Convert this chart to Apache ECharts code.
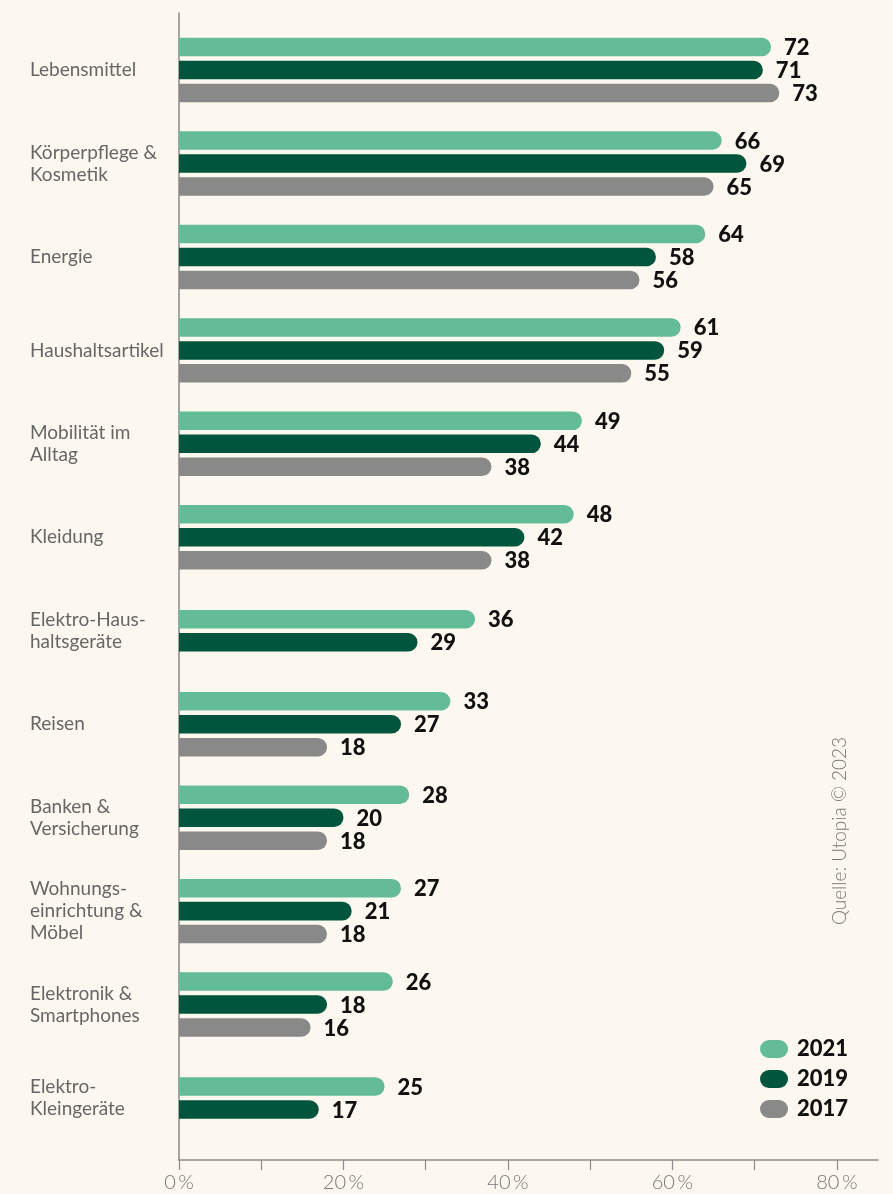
<!DOCTYPE html>
<html>
<head>
<meta charset="utf-8">
<script src="https://cdn.jsdelivr.net/npm/echarts@6/dist/echarts.min.js"></script>
<style>
html,body{margin:0;padding:0;background:#fdf8ef;}
#chart{width:893px;height:1194px;}
</style>
</head>
<body>
<div id="chart"></div>
<script>
var categories = [
  'Lebensmittel',
  'Körperpflege &\nKosmetik',
  'Energie',
  'Haushaltsartikel',
  'Mobilität im\nAlltag',
  'Kleidung',
  'Elektro-Haus-\nhaltsgeräte',
  'Reisen',
  'Banken &\nVersicherung',
  'Wohnungs-\neinrichtung &\nMöbel',
  'Elektronik &\nSmartphones',
  'Elektro-\nKleingeräte'
];
var values2021 = [72, 66, 64, 61, 49, 48, 36, 33, 28, 27, 26, 25];
var values2019 = [71, 69, 58, 59, 44, 42, 29, 27, 20, 21, 18, 17];
var values2017 = [73, 65, 56, 55, 38, 38, null, 18, 18, 18, 16, null];
var seriesNames = ['2021', '2019', '2017'];
var xTickLabels = [0, 20, 40, 60, 80];
var xTicks = [0, 10, 20, 30, 40, 50, 60, 70, 80];

var allVals = [values2021, values2019, values2017];
var colors = ['#63bb98', '#00553c', '#898989'];
var pill = 'path://M9,0 H19 A9,9 0 0 1 19,18 H9 A9,9 0 0 1 9,0 Z';

function makeRender(sIdx) {
  return function (params, api) {
    var v = api.value(0);
    var idx = api.value(1);
    var present = [];
    allVals.forEach(function (arr, k) { if (arr[idx] != null) present.push(k); });
    var pos = present.indexOf(sIdx);
    var n = present.length;
    var unit = api.size([0, 1])[1];
    var pitch = unit * 0.246;
    var h = unit * 0.198;
    var c = api.coord([0, idx]);
    var e = api.coord([v, idx]);
    var cy = c[1] + (pos - (n - 1) / 2) * pitch;
    return {
      type: 'group',
      children: [
        {
          type: 'rect',
          shape: { x: c[0], y: cy - h / 2, width: e[0] - c[0], height: h, r: [0, h / 2, h / 2, 0] },
          style: { fill: colors[sIdx] }
        },
        {
          type: 'text',
          style: {
            x: e[0] + 13, y: cy + 1, text: String(v),
            fontSize: 22, fontWeight: 900, fontFamily: 'Lato',
            fill: '#111', align: 'left', verticalAlign: 'middle'
          }
        }
      ]
    };
  };
}

var series = allVals.map(function (arr, k) {
  var data = [];
  arr.forEach(function (v, i) { if (v != null) data.push([v, i]); });
  return {
    type: 'custom',
    name: seriesNames[k],
    itemStyle: { color: colors[k] },
    encode: { x: 0, y: 1 },
    renderItem: makeRender(k),
    data: data
  };
});

var chart = echarts.init(document.getElementById('chart'), null, { renderer: 'canvas' });
chart.setOption({
  backgroundColor: '#fdf8ef',
  animation: false,
  grid: { left: 179, right: 15, top: 13, bottom: 34, containLabel: false },
  xAxis: {
    type: 'value', min: 0, max: 85,
    axisLine: { show: true, onZero: false, lineStyle: { color: '#8a8a8a', width: 1.5 } },
    axisTick: { show: true, length: 10, lineStyle: { color: '#8a8a8a', width: 1.2 }, customValues: xTicks },
    axisLabel: {
      customValues: xTickLabels,
      formatter: function (v) { return v + '\u2009%'; },
      color: '#777', fontSize: 20, fontFamily: 'Lato', fontWeight: 300, margin: 13
    },
    splitLine: { show: false }
  },
  yAxis: {
    type: 'value', inverse: true, min: -0.61, max: 11.663,
    axisLine: { show: true, onZero: false, lineStyle: { color: '#8a8a8a', width: 1.5 } },
    axisTick: { show: false },
    splitLine: { show: false },
    axisLabel: {
      customValues: categories.map(function (c, i) { return i; }),
      formatter: function (v) { return categories[v]; },
      align: 'left', margin: 149,
      color: '#666', fontSize: 19, fontFamily: 'Lato', lineHeight: 22
    }
  },
  legend: {
    orient: 'vertical', left: 755, top: 1033,
    itemWidth: 28, itemHeight: 18, itemGap: 8,
    data: seriesNames.map(function (n) { return { name: n, icon: pill }; }),
    textStyle: { fontSize: 22, fontWeight: 900, fontFamily: 'Lato', color: '#111', lineHeight: 18, padding: [0, 0, 0, 4] },
    selectedMode: false
  },
  graphic: [{
    type: 'text', x: 840, y: 831, rotation: Math.PI / 2,
    style: {
      text: 'Quelle: Utopia © 2023', fontSize: 19, fontFamily: 'Lato', fontWeight: 300,
      fill: '#777', align: 'center', verticalAlign: 'middle'
    }
  }],
  series: series
});
</script>
</body>
</html>
